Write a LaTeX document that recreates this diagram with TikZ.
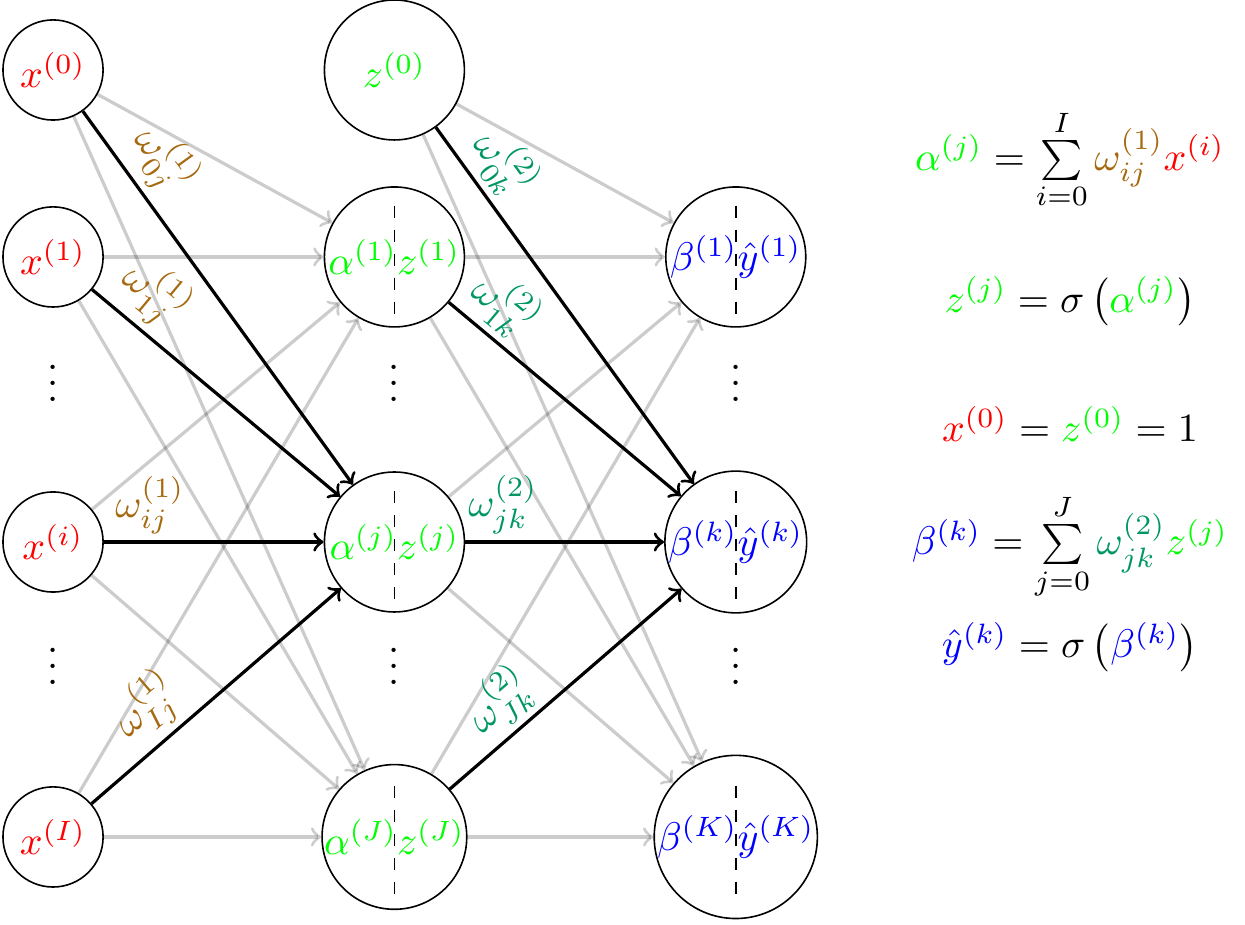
\documentclass[tikz,border=0pt]{standalone}
\usepackage{tikz}
\definecolor{wone}{RGB}{165,105,15}
\definecolor{wtwo}{RGB}{0,150,100}

\begin{document}
\begin{tikzpicture}[
	inp/.style={circle, draw, minimum size=0.88cm, inner sep=0pt},
	neu/.style={circle, draw, minimum size=1.23cm, inner sep=0pt},
	weak/.style={->, thick, black, opacity=0.2},
	strong/.style={->, thick},
	lab/.style={above, sloped, inner sep=1.5pt}]
	\useasboundingbox (-0.466,0.615) rectangle (10.475,-7.513);
	\node [inp] (x0) at (0,0) {$\color{red}x^{(0)}$};
	\node [inp] (x1) at (0,-1.643) {$\color{red}x^{(1)}$};
	\node [inp] (xi) at (0,-4.148) {$\color{red}x^{(i)}$};
	\node [inp] (xI) at (0,-6.74) {$\color{red}x^{(I)}$};
	\node [neu] (h0) at (3,0) {$\color{green}z^{(0)}$};
	\node [neu] (h1) at (3,-1.643) {$\color{green}\alpha^{(1)}z^{(1)}$};
	\node [neu] (hj) at (3,-4.148) {$\color{green}\alpha^{(j)}z^{(j)}$};
	\node [neu] (hJ) at (3,-6.74) {$\color{green}\alpha^{(J)}z^{(J)}$};
	\node [neu] (o1) at (6,-1.643) {$\color{blue}\beta^{(1)}\hat{y}^{(1)}$};
	\node [neu] (ok) at (6,-4.148) {$\color{blue}\beta^{(k)}\hat{y}^{(k)}$};
	\node [neu] (oK) at (6,-6.74) {$\color{blue}\beta^{(K)}\hat{y}^{(K)}$};
	\foreach \n in {h1,hj,hJ,o1,ok,oK}
		\draw [dashed] ([yshift=0.45cm]\n.center) -- ([yshift=-0.5cm]\n.center);
	\foreach \x in {0,3,6} {
		\node (d1\x) at (\x,-2.645) {$\vdots$};
		\node (d2\x) at (\x,-5.132) {$\vdots$};
	}
	\foreach \s in {x0,x1,xi,xI}
		\foreach \t in {h1,hJ}
			\draw [weak] (\s) -- (\t);
	\foreach \s in {h0,h1,hj,hJ}
		\foreach \t in {o1,oK}
			\draw [weak] (\s) -- (\t);
	\draw [strong] (x0) -- (hj) node [lab, pos=0.19, text=wone] {$\omega^{(1)}_{0j}$};
	\draw [strong] (x1) -- (hj) node [lab, pos=0.16, text=wone] {$\omega^{(1)}_{1j}$};
	\draw [strong] (xi) -- (hj) node [lab, pos=0.21, text=wone] {$\omega^{(1)}_{ij}$};
	\draw [strong] (xI) -- (hj) node [lab, pos=0.32, text=wone] {$\omega^{(1)}_{Ij}$};
	\draw [strong] (h0) -- (ok) node [lab, pos=0.16, text=wtwo] {$\omega^{(2)}_{0k}$};
	\draw [strong] (h1) -- (ok) node [lab, pos=0.15, text=wtwo] {$\omega^{(2)}_{1k}$};
	\draw [strong] (hj) -- (ok) node [lab, pos=0.19, text=wtwo] {$\omega^{(2)}_{jk}$};
	\draw [strong] (hJ) -- (ok) node [lab, pos=0.31, text=wtwo] {$\omega^{(2)}_{Jk}$};
	\node [anchor=base] (eqa) at (8.937,-0.879) {${\color{green}\alpha^{(j)}} = \sum\limits_{i=0}^{I} {\color{wone}\omega^{(1)}_{ij}}{\color{red}x^{(i)}}$};
	\node [anchor=base] (eqz) at (8.937,-2.127) {${\color{green}z^{(j)}} = \sigma\left({\color{green}\alpha^{(j)}}\right)$};
	\node [anchor=base] (eqo) at (8.937,-3.269) {${\color{red}x^{(0)}} = {\color{green}z^{(0)}} = 1$};
	\node [anchor=base] (eqb) at (8.937,-4.262) {${\color{blue}\beta^{(k)}} = \sum\limits_{j=0}^{J} {\color{wtwo}\omega^{(2)}_{jk}}{\color{green}z^{(j)}}$};
	\node [anchor=base] (eqy) at (8.937,-5.167) {${\color{blue}\hat{y}^{(k)}} = \sigma\left({\color{blue}\beta^{(k)}}\right)$};
\end{tikzpicture}
\end{document}
